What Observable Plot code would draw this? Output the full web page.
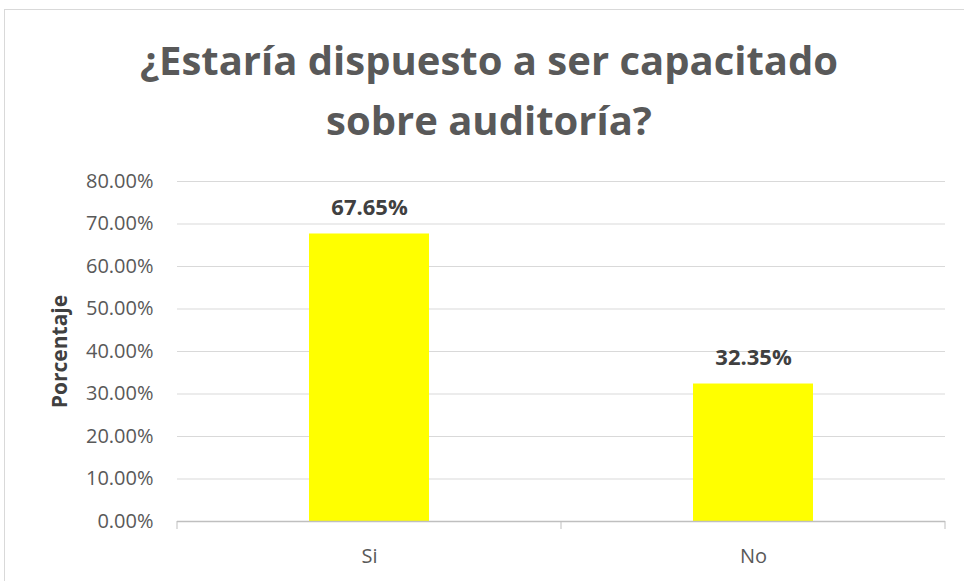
<!DOCTYPE html>
<html>
<head>
<meta charset="utf-8">
<script src="https://cdn.jsdelivr.net/npm/d3@7"></script>
<script src="https://cdn.jsdelivr.net/npm/@observablehq/plot@0.6"></script>
<style>
  body { margin: 0; background: #fff; }
  #wrap { position: relative; width: 964px; height: 581px; overflow: hidden; background: #fff; }
  #frame { position: absolute; left: 4px; top: 9px; width: 1100px; height: 1100px; border: 1px solid #d9d9d9; box-sizing: border-box; }
  #title { position: relative; padding-top: 30px; padding-left: 14px; height: 130px; text-align: center; font-family: "Open Sans", sans-serif; font-weight: bold; font-size: 40px; line-height: 60px; color: #595959; }
  #chart { position: relative; }
  #chart svg { display: block; }
  g[aria-label="y-axis label"] text { font-weight: bold; fill: #404040; font-size: 21px; }
</style>
</head>
<body>
<div id="wrap">
  <div id="frame"></div>
  <div id="title">¿Estaría dispuesto a ser capacitado<br>sobre auditoría?</div>
  <div id="chart"></div>
</div>
<script>
const categories = ["Si", "No"];
const values = [67.65, 32.35];
const yTicks = [0, 10, 20, 30, 40, 50, 60, 70, 80];
const labels = ["67.65%", "32.35%"];

const data = categories.map((c, i) => ({ cat: c, value: values[i], label: labels[i] }));

const W = 964, H = 421;
const mL = 177, mR = 19, mT = 21, mB = 60;

function bandTicks(index, scales, values, dims) {
  const g = d3.create("svg:g");
  const step = (dims.width - dims.marginLeft - dims.marginRight) / categories.length;
  const y0 = scales.y(0);
  const xs = categories.map(c => scales.x(c)).concat([scales.x(categories[categories.length - 1]) + step]);
  for (const x of xs) {
    g.append("line").attr("x1", x).attr("x2", x).attr("y1", y0).attr("y2", y0 + 8)
      .attr("stroke", "#bfbfbf").attr("stroke-width", 1);
  }
  return g.node();
}

const chart = Plot.plot({
  width: W,
  height: H,
  marginLeft: mL,
  marginRight: mR,
  marginTop: mT,
  marginBottom: mB,
  style: { fontFamily: "'Open Sans', sans-serif", fontSize: "20px", color: "#595959", background: "transparent" },
  x: { domain: categories, padding: 0, label: null },
  y: { domain: [0, 80], label: null },
  marks: [
    Plot.ruleY(yTicks.filter(d => d > 0), { stroke: "#d9d9d9", strokeWidth: 1 }),
    Plot.barY(data, { x: "cat", y: "value", fill: "#ffff00", insetLeft: 132, insetRight: 132 }),
    Plot.ruleY([0], { stroke: "#bfbfbf", strokeWidth: 1.5 }),
    bandTicks,
    Plot.axisY({ ticks: yTicks, tickSize: 0, tickPadding: 24, tickFormat: d => d.toFixed(2) + "%", label: "Porcentaje", labelAnchor: "center", labelArrow: "none", labelOffset: 125, fill: "#595959" }),
    Plot.axisX({ tickSize: 0, tickPadding: 27, fill: "#595959", label: null }),
    Plot.text(data, { x: "cat", y: "value", text: "label", lineAnchor: "bottom", dy: -19, fontFamily: "'Open Sans', sans-serif", fontWeight: "bold", fontSize: 22, fill: "#404040" })
  ]
});
document.getElementById("chart").appendChild(chart);
</script>
</body>
</html>
